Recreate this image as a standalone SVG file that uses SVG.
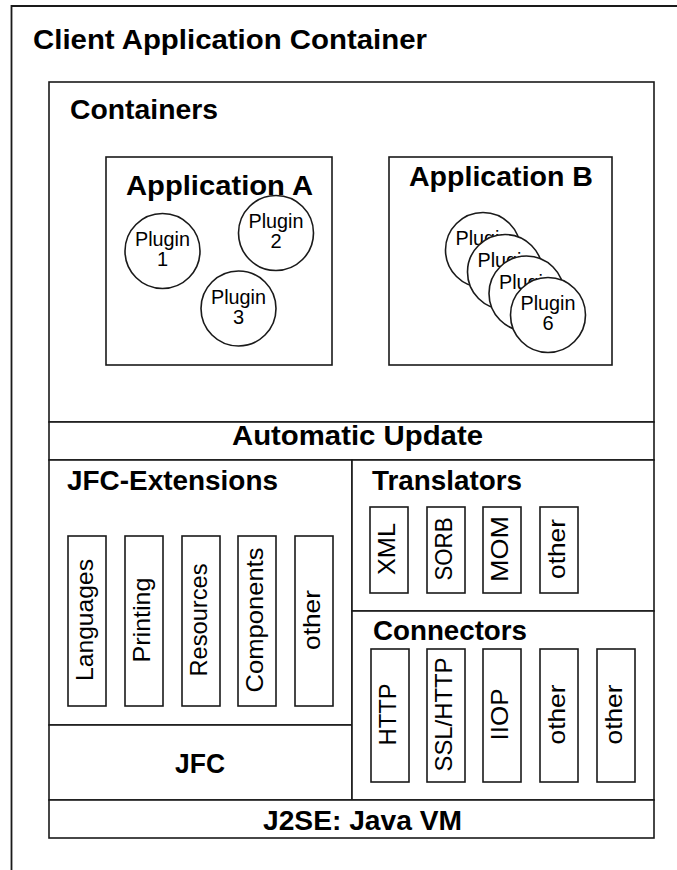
<svg xmlns="http://www.w3.org/2000/svg" width="677" height="870" viewBox="0 0 677 870">
<style>
.box{fill:#fff;stroke:#1a1a1a;stroke-width:1.6}
.t{font-family:"Liberation Sans",Arial,sans-serif;font-weight:bold;font-size:28px;fill:#000}
.p{font-family:"Liberation Sans",Arial,sans-serif;font-size:20px;fill:#000;text-anchor:middle}
.r{font-family:"Liberation Sans",Arial,sans-serif;font-size:24px;fill:#000;text-anchor:middle}
</style>
<rect width="677" height="870" fill="#fff"/>
<g id="client-application-container">
<path d="M11.5,870 V6 H677" fill="none" stroke="#1a1a1a" stroke-width="1.8"/>
<text class="t" x="33" y="49" font-size="29" textLength="394" lengthAdjust="spacingAndGlyphs">Client Application Container</text>
</g>
<g id="containers">
<rect class="box" x="49" y="82" width="605" height="340"/>
<text class="t" x="70" y="119" textLength="148" lengthAdjust="spacingAndGlyphs">Containers</text>
</g>
<g id="application-a">
<rect class="box" x="106" y="157" width="226" height="208"/>
<text class="t" x="126" y="195" textLength="187" lengthAdjust="spacingAndGlyphs">Application A</text>
</g>
<g id="plugin-1">
<circle class="box" cx="162.5" cy="251" r="37.5"/>
<text class="p" x="162.5" y="246" textLength="55" lengthAdjust="spacingAndGlyphs">Plugin</text>
<text class="p" x="162.5" y="266">1</text>
</g>
<g id="plugin-2">
<circle class="box" cx="276" cy="233" r="37.5"/>
<text class="p" x="276" y="228" textLength="55" lengthAdjust="spacingAndGlyphs">Plugin</text>
<text class="p" x="276" y="248">2</text>
</g>
<g id="plugin-3">
<circle class="box" cx="238.5" cy="308.5" r="37.5"/>
<text class="p" x="238.5" y="303.5" textLength="55" lengthAdjust="spacingAndGlyphs">Plugin</text>
<text class="p" x="238.5" y="323.5">3</text>
</g>
<g id="application-b">
<rect class="box" x="389" y="157" width="223" height="208"/>
<text class="t" x="409" y="186" textLength="184" lengthAdjust="spacingAndGlyphs">Application B</text>
</g>
<g id="plugin-b1">
<circle class="box" cx="483" cy="250" r="37.5"/>
<text class="p" x="483" y="245" textLength="55" lengthAdjust="spacingAndGlyphs">Plugin</text>
</g>
<g id="plugin-b2">
<circle class="box" cx="505" cy="272" r="37.5"/>
<text class="p" x="505" y="267" textLength="55" lengthAdjust="spacingAndGlyphs">Plugin</text>
</g>
<g id="plugin-b3">
<circle class="box" cx="526.5" cy="293.5" r="37.5"/>
<text class="p" x="526.5" y="288.5" textLength="55" lengthAdjust="spacingAndGlyphs">Plugin</text>
</g>
<g id="plugin-6">
<circle class="box" cx="548" cy="315" r="37.5"/>
<text class="p" x="548" y="310" textLength="55" lengthAdjust="spacingAndGlyphs">Plugin</text>
<text class="p" x="548" y="330">6</text>
</g>
<g id="automatic-update">
<rect class="box" x="49" y="422" width="605" height="38"/>
<text class="t" x="232" y="445" font-size="27" textLength="251" lengthAdjust="spacingAndGlyphs">Automatic Update</text>
</g>
<g id="jfc-extensions">
<rect class="box" x="49" y="460" width="303" height="265"/>
<text class="t" x="67" y="490" textLength="211" lengthAdjust="spacingAndGlyphs">JFC-Extensions</text>
</g>
<g id="languages"><rect class="box" x="68" y="536" width="38" height="170"/><text class="r" transform="translate(93,620) rotate(-90)" textLength="122" lengthAdjust="spacingAndGlyphs">Languages</text></g>
<g id="printing"><rect class="box" x="125" y="536" width="38" height="170"/><text class="r" transform="translate(150,620) rotate(-90)" textLength="85" lengthAdjust="spacingAndGlyphs">Printing</text></g>
<g id="resources"><rect class="box" x="182" y="536" width="38" height="170"/><text class="r" transform="translate(207,620) rotate(-90)" textLength="113" lengthAdjust="spacingAndGlyphs">Resources</text></g>
<g id="components"><rect class="box" x="238" y="536" width="38" height="170"/><text class="r" transform="translate(263,620) rotate(-90)" textLength="145" lengthAdjust="spacingAndGlyphs">Components</text></g>
<g id="jfc-other"><rect class="box" x="295" y="536" width="38" height="170"/><text class="r" transform="translate(320,620) rotate(-90)" textLength="60" lengthAdjust="spacingAndGlyphs">other</text></g>
<g id="jfc">
<rect class="box" x="49" y="725" width="303" height="75"/>
<text class="t" x="175" y="773" textLength="50" lengthAdjust="spacingAndGlyphs">JFC</text>
</g>
<g id="translators">
<rect class="box" x="352" y="460" width="302" height="151"/>
<text class="t" x="372" y="490" textLength="150" lengthAdjust="spacingAndGlyphs">Translators</text>
</g>
<g id="xml"><rect class="box" x="370" y="507" width="38" height="86"/><text class="r" transform="translate(395,549) rotate(-90)" textLength="52" lengthAdjust="spacingAndGlyphs">XML</text></g>
<g id="sorb"><rect class="box" x="427" y="507" width="38" height="86"/><text class="r" transform="translate(452,549) rotate(-90)" textLength="63" lengthAdjust="spacingAndGlyphs">SORB</text></g>
<g id="mom"><rect class="box" x="483" y="507" width="38" height="86"/><text class="r" transform="translate(508,549) rotate(-90)" textLength="66" lengthAdjust="spacingAndGlyphs">MOM</text></g>
<g id="translators-other"><rect class="box" x="540" y="507" width="38" height="86"/><text class="r" transform="translate(565,549) rotate(-90)" textLength="60" lengthAdjust="spacingAndGlyphs">other</text></g>
<g id="connectors">
<rect class="box" x="352" y="611" width="302" height="189"/>
<text class="t" x="373" y="640" textLength="154" lengthAdjust="spacingAndGlyphs">Connectors</text>
</g>
<g id="http"><rect class="box" x="371" y="649" width="38" height="133"/><text class="r" transform="translate(396,714.5) rotate(-90)" textLength="62" lengthAdjust="spacingAndGlyphs">HTTP</text></g>
<g id="ssl-http"><rect class="box" x="427" y="649" width="38" height="133"/><text class="r" transform="translate(452,714.5) rotate(-90)" textLength="114" lengthAdjust="spacingAndGlyphs">SSL/HTTP</text></g>
<g id="iiop"><rect class="box" x="483" y="649" width="38" height="133"/><text class="r" transform="translate(508,714.5) rotate(-90)" textLength="52" lengthAdjust="spacingAndGlyphs">IIOP</text></g>
<g id="connectors-other-1"><rect class="box" x="540" y="649" width="38" height="133"/><text class="r" transform="translate(565,714.5) rotate(-90)" textLength="60" lengthAdjust="spacingAndGlyphs">other</text></g>
<g id="connectors-other-2"><rect class="box" x="597" y="649" width="38" height="133"/><text class="r" transform="translate(622,714.5) rotate(-90)" textLength="60" lengthAdjust="spacingAndGlyphs">other</text></g>
<g id="j2se">
<rect class="box" x="49" y="800" width="605" height="38"/>
<text class="t" x="263" y="830" textLength="199" lengthAdjust="spacingAndGlyphs">J2SE: Java VM</text>
</g>
<g id="connectors-lines"/>
</svg>
